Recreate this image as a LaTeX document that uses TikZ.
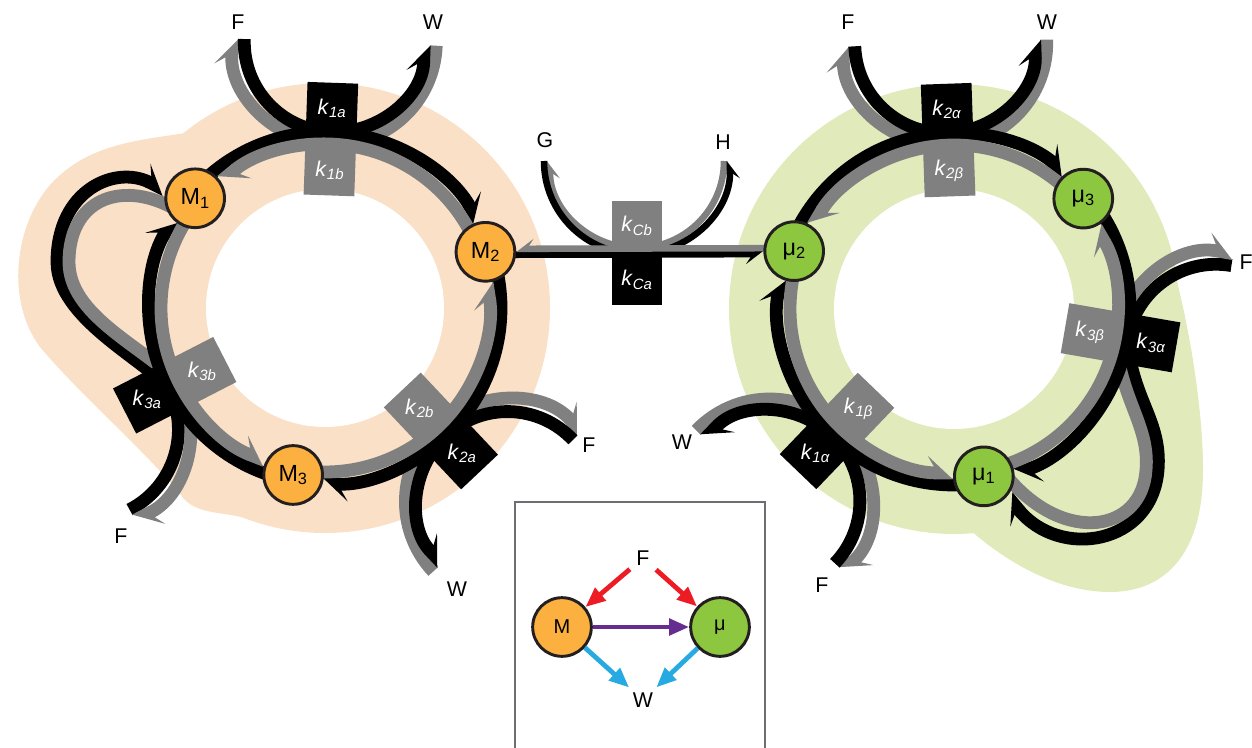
\documentclass[tikz,border=0pt]{standalone}
\usepackage{fontspec}
\setmainfont{Liberation Sans}
\usetikzlibrary{arrows.meta,calc}

\definecolor{peach}{HTML}{F9E0C7}
\definecolor{sage}{HTML}{E1EABB}
\definecolor{morange}{HTML}{FBB040}
\definecolor{mugreen}{HTML}{8DC63F}
\definecolor{revgray}{HTML}{808080}
\definecolor{rimgray}{HTML}{231F20}
\definecolor{framegray}{HTML}{6D6E71}
\definecolor{feedred}{HTML}{ED1C24}
\definecolor{passpurple}{HTML}{662D91}
\definecolor{wasteblue}{HTML}{27AAE1}

\pgfdeclarelayer{ground}
\pgfdeclarelayer{tracks}
\pgfsetlayers{ground,tracks,main}

% one-sided heads: tip on the inner edge of the line, barb on the free side
\pgfdeclarearrow{
  name=BarbL,
  parameters={\the\pgfarrowlength,\the\pgfarrowwidth,\the\pgfarrowlinewidth},
  setup code={
    \pgfarrowssettipend{0pt}
    \pgfarrowssetlineend{-0.7\pgfarrowlength}
    \pgfarrowssetbackend{-\pgfarrowlength}
    \pgfarrowssavethe\pgfarrowlength
    \pgfarrowssavethe\pgfarrowwidth
    \pgfarrowssavethe\pgfarrowlinewidth
  },
  drawing code={
    \pgfpathmoveto{\pgfpoint{0pt}{-0.5\pgfarrowlinewidth}}
    \pgfpathlineto{\pgfpoint{-\pgfarrowlength}{0.5\pgfarrowlinewidth+\pgfarrowwidth}}
    \pgfpathlineto{\pgfpoint{-0.75\pgfarrowlength}{0.5\pgfarrowlinewidth}}
    \pgfpathlineto{\pgfpoint{-0.75\pgfarrowlength}{-0.5\pgfarrowlinewidth}}
    \pgfpathclose
    \pgfusepathqfill
  },
  defaults={length=19pt, width=7pt, line width=0pt 1}
}
\pgfdeclarearrow{
  name=BarbR,
  parameters={\the\pgfarrowlength,\the\pgfarrowwidth,\the\pgfarrowlinewidth},
  setup code={
    \pgfarrowssettipend{0pt}
    \pgfarrowssetlineend{-0.7\pgfarrowlength}
    \pgfarrowssetbackend{-\pgfarrowlength}
    \pgfarrowssavethe\pgfarrowlength
    \pgfarrowssavethe\pgfarrowwidth
    \pgfarrowssavethe\pgfarrowlinewidth
  },
  drawing code={
    \pgfpathmoveto{\pgfpoint{0pt}{0.5\pgfarrowlinewidth}}
    \pgfpathlineto{\pgfpoint{-\pgfarrowlength}{-0.5\pgfarrowlinewidth-\pgfarrowwidth}}
    \pgfpathlineto{\pgfpoint{-0.75\pgfarrowlength}{-0.5\pgfarrowlinewidth}}
    \pgfpathlineto{\pgfpoint{-0.75\pgfarrowlength}{0.5\pgfarrowlinewidth}}
    \pgfpathclose
    \pgfusepathqfill
  },
  defaults={length=13pt, width=4.5pt, line width=0pt 1}
}

\tikzset{
  fwd/.style={color=black, line width=9.6pt},
  bwd/.style={color=revgray, line width=9.6pt},
  harp/.style={-{BarbL[length=19pt, width=8pt]}},
  fwdthin/.style={color=black, line width=4.9pt},
  bwdthin/.style={color=revgray, line width=4.9pt},
  harpthin/.style={-{BarbR[length=13pt, width=5pt]}},
  species/.style={circle, draw=rimgray, line width=2.2pt, minimum size=44pt, inner sep=0pt},
  mnode/.style={species, fill=morange},
  munode/.style={species, fill=mugreen},
  kbox/.style={minimum size=38pt, inner sep=0pt, fill=black},
  kboxb/.style={minimum size=38pt, inner sep=0pt, fill=revgray},
  klabel/.style={text=white, inner sep=0pt, font=\fontsize{16}{18}\selectfont},
  chem/.style={inner sep=1pt, font=\fontsize{16}{18}\selectfont},
  flux/.style={line width=3.6pt, -{Triangle[length=15pt, width=12pt]}},
}

\begin{document}
\begin{tikzpicture}[x=0.75pt,y=0.75pt,yscale=-1,xscale=1]
\useasboundingbox (0,0) rectangle (1252,748);

% centres of the two cycles and of the side arcs
\coordinate (cL) at (325,308);
\coordinate (cR) at (954,309);
\coordinate (uL1) at ([shift={(272:266)}]cL);
\coordinate (uL2) at ([shift={(46.7:266)}]cL);
\coordinate (uL3) at ([shift={(152.8:266)}]cL);
\coordinate (uR1) at ([shift={(133.8:266)}]cR);
\coordinate (uR2) at ([shift={(268:266)}]cR);
\coordinate (uR3) at ([shift={(9.8:266)}]cR);
\coordinate (uC) at (637,161);

% Species
\node[mnode, font=\fontsize{17.5}{20}\selectfont] (M1) at ([shift={(220.2:170)}]cL) {M\textsubscript{1}};
\node[mnode, font=\fontsize{17.5}{20}\selectfont] (M2) at ([shift={(340.7:170)}]cL) {M\textsubscript{2}};
\node[mnode, font=\fontsize{17.5}{20}\selectfont] (M3) at ([shift={(100.8:170)}]cL) {M\textsubscript{3}};
\node[munode, font=\fontsize{17.5}{20}\selectfont] (mu1) at ([shift={(79.9:170)}]cR) {μ\textsubscript{1}};
\node[munode, font=\fontsize{17.5}{20}\selectfont] (mu2) at ([shift={(199.9:170)}]cR) {μ\textsubscript{2}};
\node[munode, font=\fontsize{17.5}{20}\selectfont] (mu3) at ([shift={(319.5:170)}]cR) {μ\textsubscript{3}};

% Rate boxes
\node[kbox, rotate=-272] (k1a) at ([shift={(272:200)}]cL) {};
\node[kboxb, rotate=-272] (k1b) at ([shift={(272:138)}]cL) {};
\node[kbox, rotate=-46.7] (k2a) at ([shift={(46.7:200)}]cL) {};
\node[kboxb, rotate=-46.7] (k2b) at ([shift={(46.7:138)}]cL) {};
\node[kbox, rotate=-152.8] (k3a) at ([shift={(152.8:200)}]cL) {};
\node[kboxb, rotate=-152.8] (k3b) at ([shift={(152.8:138)}]cL) {};
\node[kbox, rotate=-268] (k2al) at ([shift={(268:200)}]cR) {};
\node[kboxb, rotate=-268] (k2be) at ([shift={(268:138)}]cR) {};
\node[kbox, rotate=-133.8] (k1al) at ([shift={(133.8:200)}]cR) {};
\node[kboxb, rotate=-133.8] (k1be) at ([shift={(133.8:138)}]cR) {};
\node[kbox, rotate=-9.8] (k3al) at ([shift={(9.8:200)}]cR) {};
\node[kboxb, rotate=-9.8] (k3be) at ([shift={(9.8:138)}]cR) {};
\node[kboxb] (kCb) at (637,226) {};
\node[kbox] (kCa) at (637,280) {};

% Text Node
\node[klabel] (t1a) at (k1a) {\textit{k}\textsubscript{\textit{1a}}};
\node[klabel] (t1b) at (k1b) {\textit{k}\textsubscript{\textit{1b}}};
\node[klabel] (t2a) at (k2a) {\textit{k}\textsubscript{\textit{2a}}};
\node[klabel] (t2b) at (k2b) {\textit{k}\textsubscript{\textit{2b}}};
\node[klabel] (t3a) at (k3a) {\textit{k}\textsubscript{\textit{3a}}};
\node[klabel] (t3b) at (k3b) {\textit{k}\textsubscript{\textit{3b}}};
\node[klabel] (t2al) at (k2al) {\textit{k}\textsubscript{\textit{2α}}};
\node[klabel] (t2be) at (k2be) {\textit{k}\textsubscript{\textit{2β}}};
\node[klabel] (t1al) at (k1al) {\textit{k}\textsubscript{\textit{1α}}};
\node[klabel] (t1be) at (k1be) {\textit{k}\textsubscript{\textit{1β}}};
\node[klabel] (t3al) at (k3al) {\textit{k}\textsubscript{\textit{3α}}};
\node[klabel] (t3be) at (k3be) {\textit{k}\textsubscript{\textit{3β}}};
\node[klabel] (tCb) at (kCb) {\textit{k}\textsubscript{\textit{Cb}}};
\node[klabel] (tCa) at (kCa) {\textit{k}\textsubscript{\textit{Ca}}};

% Text Node
\node[chem] (fL1) at (238,22) {F};
\node[chem] (wL1) at (433,22) {W};
\node[chem] (fL2) at (589,445) {F};
\node[chem] (wL2) at (457,589) {W};
\node[chem] (fL3) at (121,536) {F};
\node[chem] (fR2) at (848,22) {F};
\node[chem] (wR2) at (1047,22) {W};
\node[chem] (wR1) at (682,442) {W};
\node[chem] (fR1) at (822,585) {F};
\node[chem, anchor=west] (fR3) at (1238,262) {F};
\node[chem] (g) at (545,140) {G};
\node[chem] (h) at (723,142) {H};

% Inset
\draw[framegray, line width=1pt] (515,502) rectangle (765,760);
\node[mnode, font=\fontsize{15}{17}\selectfont] (iM) at (562,627) {M};
\node[munode, font=\fontsize{15}{17}\selectfont] (imu) at (720,627) {μ};
\node[chem] (iF) at (643,558) {F};
\node[chem] (iW) at (643,700) {W};
\draw[flux, feedred, shorten <=5pt] (iF) -- (iM);
\draw[flux, feedred, shorten <=5pt] (iF) -- (imu);
\draw[flux, passpurple] (iM) -- (imu);
\draw[flux, wasteblue, shorten >=4pt] (iM) -- (iW);
\draw[flux, wasteblue, shorten >=4pt] (imu) -- (iW);

\begin{pgfonlayer}{tracks}
%Side arcs, left cycle
\draw[bwd,harp] ([shift={(2:102)}]uL1) arc[start angle=2, end angle=182, radius=102];
\draw[fwd,harp] ([shift={(182:90)}]uL1) arc[start angle=182, end angle=2, radius=90];
\draw[bwd,harp] ([shift={(136.7:102)}]uL2) arc[start angle=136.7, end angle=316.7, radius=102];
\draw[fwd,harp] ([shift={(-43.3:90)}]uL2) arc[start angle=-43.3, end angle=-223.3, radius=90];
\draw[fwd,harp] ([shift={(62.8:90)}]uL3) arc[start angle=62.8, end angle=-27.2, radius=90]
  .. controls (145,360) and (57,318) .. (57,262) .. controls (57,190) and (115,165) .. (M1.165);
\draw[bwd,harp,shorten <=-6pt] (M1.190) .. controls (120,180) and (69,200) .. (69,262)
  .. controls (69,315) and (140,345) .. ([shift={(-27.2:102)}]uL3) arc[start angle=-27.2, end angle=62.8, radius=102];

%Side arcs, right cycle
\draw[bwd,harp] ([shift={(-2:102)}]uR2) arc[start angle=-2, end angle=178, radius=102];
\draw[fwd,harp] ([shift={(178:90)}]uR2) arc[start angle=178, end angle=-2, radius=90];
\draw[bwd,harp] ([shift={(-136.2:102)}]uR1) arc[start angle=-136.2, end angle=43.8, radius=102];
\draw[fwd,harp] ([shift={(43.8:90)}]uR1) arc[start angle=43.8, end angle=-136.2, radius=90];
\draw[fwd,harp] ([shift={(-80.2:90)}]uR3) arc[start angle=-80.2, end angle=-170.2, radius=90]
  .. controls (1132,400) and (1162,420) .. (1158,470) .. controls (1152,545) and (1060,560) .. (mu1.-40);
\draw[bwd,harp,shorten <=-6pt] (mu1.-15) .. controls (1065,545) and (1142,532) .. (1146,470)
  .. controls (1150,425) and (1120,400) .. ([shift={(-170.2:102)}]uR3) arc[start angle=-170.2, end angle=-80.2, radius=102];

%Cycle arcs, left
\draw[fwd,harp] ([shift={(220.2:176)}]cL) arc[start angle=220.2, end angle=330.7, radius=176];
\draw[bwd,harp] ([shift={(340.7:164)}]cL) arc[start angle=340.7, end angle=230.7, radius=164];
\draw[fwd,harp] ([shift={(340.7:176)}]cL) arc[start angle=340.7, end angle=450.8, radius=176];
\draw[bwd,harp] ([shift={(460.8:164)}]cL) arc[start angle=460.8, end angle=351.2, radius=164];
\draw[fwd,harp] ([shift={(100.8:176)}]cL) arc[start angle=100.8, end angle=210.2, radius=176];
\draw[bwd,harp] ([shift={(220.2:164)}]cL) arc[start angle=220.2, end angle=111.3, radius=164];

%Cycle arcs, right
\draw[fwd,harp] ([shift={(199.9:176)}]cR) arc[start angle=199.9, end angle=309.5, radius=176];
\draw[bwd,harp] ([shift={(319.5:164)}]cR) arc[start angle=319.5, end angle=210.4, radius=164];
\draw[fwd,harp] ([shift={(319.5:176)}]cR) arc[start angle=319.5, end angle=429.9, radius=176];
\draw[bwd,harp] ([shift={(439.9:164)}]cR) arc[start angle=439.9, end angle=330, radius=164];
\draw[fwd,harp] ([shift={(79.9:176)}]cR) arc[start angle=79.9, end angle=189.9, radius=176];
\draw[bwd,harp] ([shift={(199.9:164)}]cR) arc[start angle=199.9, end angle=90.4, radius=164];

%Exchange between the cycles
\draw[bwdthin,harpthin] ([shift={(0:87)}]uC) arc[start angle=0, end angle=180, radius=87];
\draw[fwdthin,harpthin] ([shift={(180:93)}]uC) arc[start angle=180, end angle=0, radius=93];
\draw[fwdthin,harpthin] ($(M2)+(0,3)$) -- ($(mu2.west)+(0,3)$);
\draw[bwdthin,harpthin] ($(mu2)+(0,-3)$) -- ($(M2.east)+(0,-3)$);
\end{pgfonlayer}

\begin{pgfonlayer}{ground}
% Shaded rings
\fill[peach] (cL) circle[radius=225];
\fill[peach] (190,132) .. controls (150,140) and (90,140) .. (50,185) .. controls (15,225) and (5,300) .. (40,347)
  .. controls (80,395) and (150,455) .. (185,500) .. controls (200,515) and (228,512) .. (248,519) -- (300,400) -- cycle;
\fill[white] (cL) circle[radius=119];
\fill[sage] (cR) circle[radius=225];
\fill[sage] (1165,240) .. controls (1185,300) and (1203,400) .. (1203,470) .. controls (1203,560) and (1160,592) .. (1110,592)
  .. controls (1060,592) and (1010,565) .. (970,530) -- (1000,400) -- cycle;
\fill[white] (cR) circle[radius=120];
\end{pgfonlayer}

\end{tikzpicture}
\end{document}
